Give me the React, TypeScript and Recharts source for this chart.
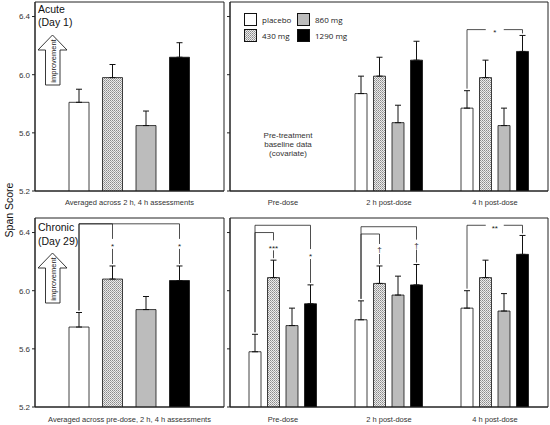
import React from "react";
import {
  BarChart,
  Bar,
  XAxis,
  YAxis,
  ErrorBar,
  ReferenceArea,
  Rectangle,
  Legend,
} from "recharts";

const Y_MIN = 5.2;
const Y_MAX = 6.5;
const yTicks = [5.2, 5.6, 6.0, 6.4];

const doseKeys = ["placebo", "d430", "d860", "d1290"];
const doseNames = ["placebo", "430 mg", "860 mg", "1290 mg"];
const doseFills = ["#ffffff", "url(#dots430)", "#bcbcbc", "#000000"];

const timepoints = ["Pre-dose", "2 h post-dose", "4 h post-dose"];

// Acute (Day 1), averaged over 2 h and 4 h
const acuteAvgLabel = ["Averaged across 2 h, 4 h assessments"];
const acuteAvgMean = [5.81, 5.98, 5.65, 6.12];
const acuteAvgSem = [0.09, 0.09, 0.1, 0.1];

// Acute by timepoint (rows = doses). Pre-dose is the covariate, no bars.
const acuteMean = [
  [null, 5.87, 5.77],
  [null, 5.99, 5.98],
  [null, 5.67, 5.65],
  [null, 6.1, 6.16],
];
const acuteSem = [
  [null, 0.12, 0.12],
  [null, 0.13, 0.12],
  [null, 0.12, 0.12],
  [null, 0.13, 0.11],
];

// Chronic (Day 29), averaged over pre-dose, 2 h, 4 h
const chronicAvgLabel = ["Averaged across pre-dose, 2 h, 4 h assessments"];
const chronicAvgMean = [5.75, 6.08, 5.87, 6.07];
const chronicAvgSem = [0.1, 0.09, 0.09, 0.1];

// Chronic by timepoint (rows = doses)
const chronicMean = [
  [5.58, 5.8, 5.88],
  [6.09, 6.05, 6.09],
  [5.76, 5.97, 5.86],
  [5.91, 6.04, 6.25],
];
const chronicSem = [
  [0.12, 0.13, 0.12],
  [0.12, 0.12, 0.12],
  [0.12, 0.13, 0.12],
  [0.13, 0.14, 0.13],
];

// comparisons against placebo: group index, dose index, bracket height, mark
const acuteSig = [{ group: 2, dose: 3, level: 6.31, mark: "*", inline: true }];
const chronicAvgSig = [
  { group: 0, dose: 1, level: 6.46, mark: "*" },
  { group: 0, dose: 3, level: 6.46, mark: "*" },
];
const chronicSig = [
  { group: 0, dose: 3, level: 6.45, mark: "*" },
  { group: 0, dose: 1, level: 6.4, mark: "***" },
  { group: 1, dose: 3, level: 6.44, mark: "†" },
  { group: 1, dose: 1, level: 6.39, mark: "†" },
  { group: 2, dose: 3, level: 6.45, mark: "**", inline: true },
];

function buildRows(labels: string[], mean: any[][], sem: any[][]) {
  return labels.map((label, g) => {
    const row: any = { label, gi: g };
    doseKeys.forEach((k, d) => {
      const m = mean[d][g];
      row[k] = m;
      row[k + "Err"] = m == null ? null : [0, sem[d][g]];
    });
    return row;
  });
}

const acuteAvgRows = buildRows(
  acuteAvgLabel,
  acuteAvgMean.map((v) => [v]),
  acuteAvgSem.map((v) => [v])
);
const acuteRows = buildRows(timepoints, acuteMean, acuteSem);
const chronicAvgRows = buildRows(
  chronicAvgLabel,
  chronicAvgMean.map((v) => [v]),
  chronicAvgSem.map((v) => [v])
);
const chronicRows = buildRows(timepoints, chronicMean, chronicSem);

const INK = "#222";
const FONT = "'Liberation Sans', Arial, sans-serif";

// the last bar series draws the brackets, using its own geometry for the scale
function sigShape(sigs: any[], barGap: number) {
  return (props: any) => {
    const { x, y, width, height, payload, fill, stroke, strokeWidth } = props;
    const v = payload ? payload.d1290 : null;
    if (v == null || !height) return <g />;
    const base = y + height;
    const ppu = height / (v - Y_MIN);
    const toY = (val: number) => base - (val - Y_MIN) * ppu;
    const step = width + barGap;
    const cx = (d: number) => x + width / 2 - (3 - d) * step;
    const errTop = (d: number) =>
      toY(payload[doseKeys[d]] + payload[doseKeys[d] + "Err"][1]) - 2;
    const parts: any[] = [];
    sigs
      .filter((s) => s.group === payload.gi)
      .forEach((s, i) => {
        const x0 = cx(0);
        const x1 = cx(s.dose);
        const yl = toY(s.level);
        const y1 = errTop(s.dose);
        const key = `s${i}`;
        const ln = { stroke: INK, strokeWidth: 0.8 };
        const dy = s.mark.includes("*") ? "0.35em" : "0.1em";
        parts.push(<line key={key + "a"} x1={x0} y1={yl} x2={x0} y2={errTop(0)} {...ln} />);
        if (s.inline) {
          const xm = (x0 + x1) / 2;
          parts.push(<line key={key + "b"} x1={x0} y1={yl} x2={xm - 9} y2={yl} {...ln} />);
          parts.push(<line key={key + "c"} x1={xm + 9} y1={yl} x2={x1} y2={yl} {...ln} />);
          parts.push(<line key={key + "d"} x1={x1} y1={yl} x2={x1} y2={y1} {...ln} />);
          parts.push(
            <text key={key + "t"} x={xm} y={yl} dy={dy} textAnchor="middle" dominantBaseline="central"
              fontSize={8} fill={INK} fontFamily={FONT}>
              {s.mark}
            </text>
          );
        } else {
          const ym = (yl + y1) / 2;
          parts.push(<line key={key + "b"} x1={x0} y1={yl} x2={x1} y2={yl} {...ln} />);
          parts.push(<line key={key + "c"} x1={x1} y1={yl} x2={x1} y2={ym - 5} {...ln} />);
          parts.push(<line key={key + "d"} x1={x1} y1={ym + 5} x2={x1} y2={y1} {...ln} />);
          parts.push(
            <text key={key + "t"} x={x1} y={ym} dy={dy} textAnchor="middle" dominantBaseline="central"
              fontSize={8} fill={INK} fontFamily={FONT}>
              {s.mark}
            </text>
          );
        }
      });
    return (
      <g>
        <Rectangle x={x} y={y} width={width} height={height} fill={fill} stroke={stroke} strokeWidth={strokeWidth} />
        {parts}
      </g>
    );
  };
}

const renderLegend = (props: any) => {
  const items = [...(props.payload || [])].sort(
    (a: any, b: any) => doseNames.indexOf(a.value) - doseNames.indexOf(b.value)
  );
  return (
    <div
      style={{
        display: "grid",
        gridTemplateRows: "repeat(2, 15.5px)",
        gridAutoFlow: "column",
        gridAutoColumns: "53px",
        fontSize: 8,
        fontFamily: "'Open Sans', sans-serif",
        color: INK,
      }}
    >
      {items.map((e: any) => (
        <div key={e.value} style={{ display: "flex", alignItems: "center" }}>
          <svg width={13} height={13} style={{ marginRight: 5 }}>
            <rect x={0.5} y={0.5} width={12} height={12} fill={e.color} stroke="#111" />
          </svg>
          <span>{e.value}</span>
        </div>
      ))}
    </div>
  );
};

const makeXTick = (lift: number) => (t: any) => (
  <text x={t.x} y={t.y} dy={lift} textAnchor="middle" fontSize={7.5} fill="#333" fontFamily={FONT}>
    {t.payload.value}
  </text>
);

interface PanelProps {
  left: number;
  top: number;
  width: number;
  height: number;
  rows: any[];
  yWidth: number;
  xHeight: number;
  barSize: number;
  barGap: number;
  sigs: any[];
  yLabels: boolean;
  labelDy: number;
  legend?: boolean;
}

function Panel(p: PanelProps) {
  return (
    <div style={{ position: "absolute", left: p.left, top: p.top }}>
      <BarChart
        width={p.width}
        height={p.height}
        data={p.rows}
        margin={{ top: 2, right: 1, bottom: 0, left: 0 }}
        barSize={p.barSize}
        barGap={p.barGap}
      >
        <XAxis
          dataKey="label"
          height={p.xHeight}
          interval={0}
          axisLine={{ stroke: INK }}
          tickLine={false}
          tickMargin={0}
          tick={makeXTick(p.labelDy)}
        />
        <YAxis
          type="number"
          width={p.yWidth}
          domain={[Y_MIN, Y_MAX]}
          ticks={yTicks}
          allowDataOverflow
          tickSize={3}
          axisLine={{ stroke: INK }}
          tickLine={{ stroke: INK }}
          tick={{ fontSize: 8, fill: "#333", fontFamily: FONT }}
          tickFormatter={(v: number) => (p.yLabels ? v.toFixed(1) : "")}
        />
        <ReferenceArea y1={Y_MIN} y2={Y_MAX} fill="none" stroke={INK} strokeWidth={1} ifOverflow="visible" />
        {doseKeys.map((k, d) => (
          <Bar
            key={k}
            dataKey={k}
            name={doseNames[d]}
            fill={doseFills[d]}
            stroke="#111"
            strokeWidth={0.8}
            isAnimationActive={false}
            shape={d === 3 ? sigShape(p.sigs, p.barGap) : undefined}
          >
            <ErrorBar dataKey={k + "Err"} direction="y" width={3} stroke="#111" strokeWidth={1} />
          </Bar>
        ))}
        {p.legend && (
          <Legend
            layout="vertical"
            align="center"
            verticalAlign="middle"
            content={renderLegend}
            wrapperStyle={{ top: 12, left: 44, width: "auto" }}
          />
        )}
      </BarChart>
    </div>
  );
}

function Arrow({ tip, neck, bottom }: { tip: number; neck: number; bottom: number }) {
  const pts = [
    [52.5, tip],
    [67, neck],
    [60, neck],
    [60, bottom],
    [45.5, bottom],
    [45.5, neck],
    [38, neck],
  ]
    .map((q) => q.join(","))
    .join(" ");
  const cy = (tip + bottom) / 2 + 1;
  return (
    <g>
      <polygon points={pts} fill="#fff" stroke={INK} strokeWidth={0.9} />
      <text x={53} y={cy} transform={`rotate(-90 53 ${cy})`} textAnchor="middle" dominantBaseline="central"
        fontSize={7.5} fill={INK}>
        improvement
      </text>
    </g>
  );
}

export default function App() {
  return (
    <div
      style={{
        position: "absolute",
        left: 0,
        top: 0,
        width: 550,
        height: 425,
        background: "#fff",
        fontFamily: FONT,
        overflow: "hidden",
      }}
    >
      <svg width={0} height={0} style={{ position: "absolute" }}>
        <defs>
          <pattern id="dots430" width={2} height={2} patternUnits="userSpaceOnUse">
            <rect width={2} height={2} fill="#ececec" />
            <rect width={1} height={1} fill="#8a8a8a" />
            <rect x={1} y={1} width={1} height={1} fill="#a8a8a8" />
          </pattern>
        </defs>
      </svg>

      <Panel left={0} top={0} width={225} height={215} rows={acuteAvgRows} yWidth={35} xHeight={24}
        barSize={20} barGap={13.5} sigs={[]} yLabels labelDy={8} />
      <Panel left={200} top={0} width={349} height={215} rows={acuteRows} yWidth={30} xHeight={24}
        barSize={12} barGap={6.5} sigs={acuteSig} yLabels={false} labelDy={8} legend />
      <Panel left={0} top={216} width={225} height={209} rows={chronicAvgRows} yWidth={35} xHeight={18}
        barSize={20} barGap={13.5} sigs={chronicAvgSig} yLabels labelDy={9} />
      <Panel left={200} top={216} width={349} height={209} rows={chronicRows} yWidth={30} xHeight={18}
        barSize={12} barGap={6.5} sigs={chronicSig} yLabels={false} labelDy={9} />

      <svg width={550} height={425} fontFamily={FONT}
        style={{ position: "absolute", left: 0, top: 0, pointerEvents: "none" }}>
        <text x={9} y={210} transform="rotate(-90 9 210)" textAnchor="middle" dominantBaseline="central"
          fontSize={10.5} fill="#111">
          Span Score
        </text>
        <text x={38} y={13} fontSize={10.5} fill="#111">Acute</text>
        <text x={38} y={26} fontSize={10.5} fill="#111">(Day 1)</text>
        <text x={38} y={231} fontSize={10.5} fill="#111">Chronic</text>
        <text x={38} y={245} fontSize={10.5} fill="#111">(Day 29)</text>
        <Arrow tip={35} neck={50} bottom={85} />
        <Arrow tip={253} neck={268} bottom={303} />
        <g fontSize={8} fill="#333" textAnchor="middle">
          <text x={288} y={138}>Pre-treatment</text>
          <text x={288} y={147}>baseline data</text>
          <text x={288} y={156}>(covariate)</text>
        </g>
      </svg>
    </div>
  );
}
